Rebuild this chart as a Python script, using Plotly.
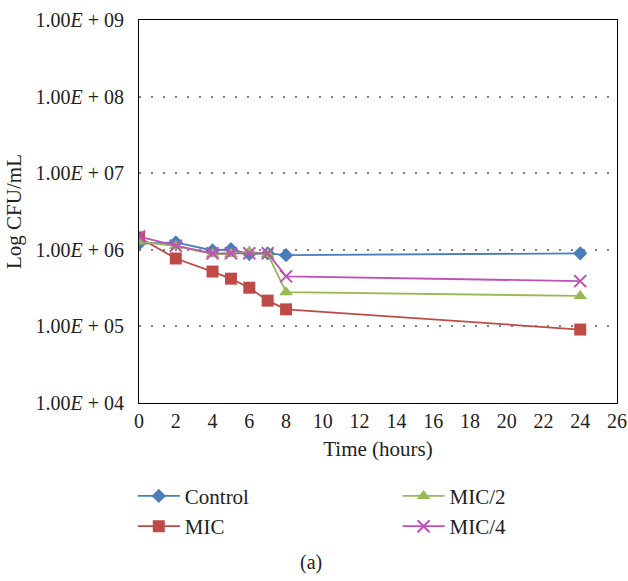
import plotly.graph_objects as go

time_h = [0, 2, 4, 5, 6, 7, 8, 24]
control = [1.2e6, 1.25e6, 0.98e6, 1.02e6, 0.88e6, 0.9e6, 0.85e6, 0.9e6]
mic = [1.45e6, 7.7e5, 5.2e5, 4.2e5, 3.2e5, 2.17e5, 1.67e5, 9.1e4]
mic2 = [1.28e6, 1.12e6, 0.88e6, 0.88e6, 0.95e6, 0.88e6, 2.8e5, 2.5e5]
mic4 = [1.49e6, 1.13e6, 0.9e6, 0.9e6, 0.9e6, 0.9e6, 4.5e5, 3.9e5]

y_tickvals = [1e4, 1e5, 1e6, 1e7, 1e8, 1e9]
y_ticktext = ["1.00<i>E</i> + 04", "1.00<i>E</i> + 05", "1.00<i>E</i> + 06",
              "1.00<i>E</i> + 07", "1.00<i>E</i> + 08", "1.00<i>E</i> + 09"]
x_tickvals = list(range(0, 27, 2))

FONT = "Liberation Serif"

fig = go.Figure()
series = [
    ("Control", control, "#4A7EBB", "diamond", 11, "legend"),
    ("MIC", mic, "#BE4B48", "square", 12, "legend"),
    ("MIC/2", mic2, "#98B954", "triangle-up", 12, "legend2"),
    ("MIC/4", mic4, "#C050B8", "x-thin-open", 12, "legend2"),
]
for name, vals, color, sym, size, lg in series:
    marker = dict(symbol=sym, size=size, color=color)
    if sym == "x-thin-open":
        marker["line"] = dict(color=color, width=2)
    fig.add_trace(go.Scatter(
        x=time_h, y=vals, name=name, mode="lines+markers",
        line=dict(color=color, width=1.8), marker=marker, legend=lg,
    ))

fig.update_layout(
    width=628, height=581,
    margin=dict(l=139, r=11, t=20, b=178, autoexpand=False),
    paper_bgcolor="white", plot_bgcolor="white",
    font=dict(family=FONT, size=20, color="#222"),
    showlegend=True,
    legend=dict(x=-0.013, y=-0.19, xanchor="left", yanchor="top",
                font=dict(family=FONT, size=21, color="#222"),
                tracegroupgap=0, itemwidth=42, bgcolor="rgba(0,0,0,0)"),
    legend2=dict(x=0.541, y=-0.19, xanchor="left", yanchor="top",
                 font=dict(family=FONT, size=21, color="#222"),
                 tracegroupgap=0, itemwidth=42, bgcolor="rgba(0,0,0,0)"),
    annotations=[dict(text="(a)", x=(311 - 139) / 478, y=(403 - 562) / 383,
                      xref="paper", yref="paper", showarrow=False,
                      xanchor="center", yanchor="middle",
                      font=dict(family=FONT, size=20, color="#222"))],
)
fig.update_xaxes(
    range=[0, 26], tickvals=x_tickvals, showgrid=False, zeroline=False,
    showline=True, linecolor="black", linewidth=1, mirror=True, automargin=False,
    ticks="", title=dict(text="Time (hours)", font=dict(family=FONT, size=21), standoff=10),
    tickfont=dict(family=FONT, size=20),
)
fig.update_yaxes(
    type="log", range=[4, 9], tickvals=y_tickvals, ticktext=y_ticktext,
    showgrid=True, gridcolor="#808080", griddash="2px,10px", gridwidth=1.5,
    zeroline=False, showline=True, linecolor="black", linewidth=1, mirror=True,
    automargin=False, ticks="", ticklabelstandoff=10,
    title=dict(text="Log CFU/mL", font=dict(family=FONT, size=21), standoff=8),
    tickfont=dict(family=FONT, size=20),
)

fig.write_html("out.html", config={"displayModeBar": False},
               post_script="document.body.style.margin='0';")
